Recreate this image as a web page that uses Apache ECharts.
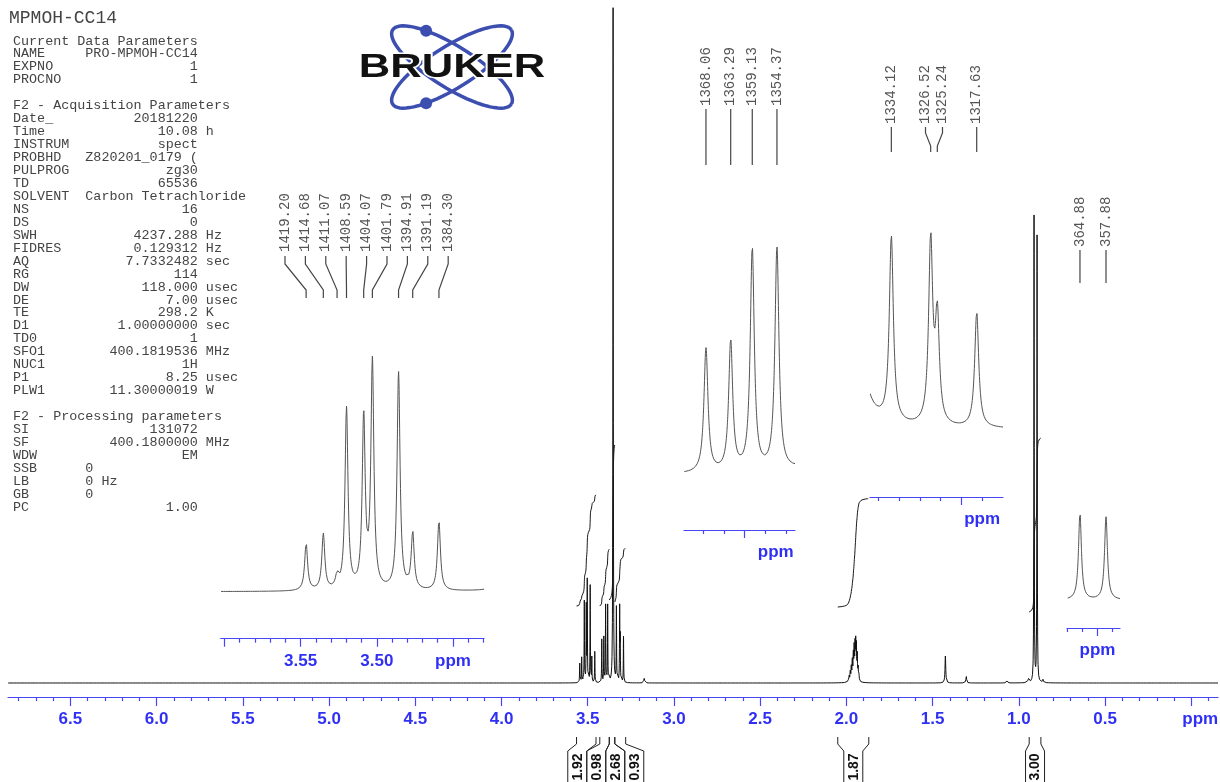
<!DOCTYPE html>
<html>
<head>
<meta charset="utf-8">
<script src="https://cdn.jsdelivr.net/npm/echarts@6/dist/echarts.min.js"></script>
<style>
  html, body { margin: 0; padding: 0; background: #fff; }
  #chart { width: 1220px; height: 782px; }
</style>
</head>
<body>
<div id="chart"></div>
<script>
// ---- acquisition constants -------------------------------------------------
const SF_MHZ = 400.18;          // spectrometer frequency, Hz -> ppm
const LINE_HWHM_HZ = 0.47;      // natural half width of the resolved lines

// ---- resolved multiplets (line positions in Hz, intensities) ---------------
const linesA_Hz = [1419.20, 1414.68, 1411.07, 1408.59, 1404.07, 1401.79, 1394.91, 1391.19, 1384.30];
const linesA_I  = [21, 25, 5.5, 81, 76, 101, 97, 25, 31];
const linesB_Hz = [1368.06, 1363.29, 1359.13, 1354.37];
const linesB_I  = [43, 45, 77, 77];
const linesC_Hz = [1334.12, 1326.52, 1325.24, 1317.63];
const linesC_I  = [74, 73, 42, 46];
const linesD_Hz = [364.88, 357.88];
const linesD_I  = [466, 446];

// ---- other signals (ppm, intensity, half width in Hz) ----------------------
const otherPpm = [3.353, 3.173,
  1.990, 1.984, 1.978, 1.972, 1.966, 1.960, 1.955, 1.950, 1.946, 1.942, 1.937, 1.932, 1.927, 1.955,
  1.426, 1.305, 1.070, 0.945, 0.860];
const otherI   = [675, 5,
  4, 7, 10, 14, 19, 24, 27, 30, 33, 31, 24, 14, 6, 7,
  27, 7, 2, 5, 3];
const otherW   = [0.5, 1.0,
  0.6, 0.6, 0.6, 0.6, 0.6, 0.6, 0.6, 0.6, 0.6, 0.6, 0.6, 0.6, 0.6, 5.0,
  1.0, 1.0, 1.5, 1.0, 1.0];

// ---- integrals ------------------------------------------------------------
const integralValue = [1.92, 0.98, 2.68, 0.93, 1.87, 3.00];
const integralFrom  = [3.565, 3.430, 3.375, 3.343, 2.050, 0.940];
const integralTo    = [3.452, 3.375, 3.343, 3.280, 1.870, 0.872];
const integralStart = [77, 77, 83, 81, 76, 71];

// ---- axis ticks -----------------------------------------------------------
const mainMajor = [0.0, 0.5, 1.0, 1.5, 2.0, 2.5, 3.0, 3.5, 4.0, 4.5, 5.0, 5.5, 6.0, 6.5];
const mainMinor = [-0.1, 0.1, 0.2, 0.3, 0.4, 0.6, 0.7, 0.8, 0.9, 1.1, 1.2, 1.3, 1.4, 1.6, 1.7, 1.8, 1.9,
  2.1, 2.2, 2.3, 2.4, 2.6, 2.7, 2.8, 2.9, 3.1, 3.2, 3.3, 3.4, 3.6, 3.7, 3.8, 3.9, 4.1, 4.2, 4.3, 4.4,
  4.6, 4.7, 4.8, 4.9, 5.1, 5.2, 5.3, 5.4, 5.6, 5.7, 5.8, 5.9, 6.1, 6.2, 6.3, 6.4, 6.6, 6.7, 6.8];
const insetAMajor = [3.45, 3.50, 3.55, 3.60];
const insetAMinor = [3.43, 3.44, 3.46, 3.47, 3.48, 3.49, 3.51, 3.52, 3.53, 3.54, 3.56, 3.57, 3.58, 3.59];
const insetBMajor = [3.40];
const insetBMinor = [3.38, 3.39, 3.41, 3.42];
const insetCMajor = [3.30];
const insetCMinor = [3.29, 3.31, 3.32, 3.33, 3.34];
const insetDMajor = [0.90];
const insetDMinor = [0.89, 0.91, 0.92];

// ---- parameter listing ----------------------------------------------------
const titleText = 'MPMOH-CC14';
const paramsCurrent = [['NAME', 'PRO-MPMOH-CC14', ''], ['EXPNO', '1', ''], ['PROCNO', '1', '']];
const paramsAcq = [
  ['Date_', '20181220', ''], ['Time', '10.08', 'h'], ['INSTRUM', 'spect', ''],
  ['PROBHD', 'Z820201_0179 (', ''], ['PULPROG', 'zg30', ''], ['TD', '65536', ''],
  ['SOLVENT', 'Carbon Tetrachloride', ''], ['NS', '16', ''], ['DS', '0', ''],
  ['SWH', '4237.288', 'Hz'], ['FIDRES', '0.129312', 'Hz'], ['AQ', '7.7332482', 'sec'],
  ['RG', '114', ''], ['DW', '118.000', 'usec'], ['DE', '7.00', 'usec'], ['TE', '298.2', 'K'],
  ['D1', '1.00000000', 'sec'], ['TD0', '1', ''], ['SFO1', '400.1819536', 'MHz'],
  ['NUC1', '1H', ''], ['P1', '8.25', 'usec'], ['PLW1', '11.30000019', 'W']];
const paramsProc = [
  ['SI', '131072', ''], ['SF', '400.1800000', 'MHz'], ['WDW', 'EM', ''],
  ['SSB', '0', '', 'L'], ['LB', '0', 'Hz', 'L'], ['GB', '0', '', 'L'], ['PC', '1.00', '']];

// ---------------------------------------------------------------------------
const BLUE = '#3030f4';
const AXIS_BLUE = '#4646f8';
const MONO = '"Liberation Mono", "DejaVu Sans Mono", monospace';
const SANS = '"Liberation Sans", Arial, sans-serif';
const INTEGRAL_PX_PER_H = 58;

// line list
const lines = [];
function addHz(hz, ints) { hz.forEach((h, i) => lines.push({ p: h / SF_MHZ, h: ints[i], g: LINE_HWHM_HZ / SF_MHZ })); }
addHz(linesA_Hz, linesA_I); addHz(linesB_Hz, linesB_I); addHz(linesC_Hz, linesC_I); addHz(linesD_Hz, linesD_I);
otherPpm.forEach((p, i) => lines.push({ p: p, h: otherI[i], g: otherW[i] / SF_MHZ }));

function spectrum(p) {
  let s = 0;
  for (const k of lines) { const d = (p - k.p) / k.g; s += k.h / (1 + d * d); }
  return s;
}
const OFFS = [-60, -30, -15, -8, -5, -3, -2, -1.5, -1, -0.6, -0.3, 0, 0.3, 0.6, 1, 1.5, 2, 3, 5, 8, 15, 30, 60];
function sampled(min, max, step) {
  const xs = [];
  for (let p = min; p <= max; p += step) xs.push(p);
  xs.push(max);
  lines.forEach(k => OFFS.forEach(o => { const q = k.p + o * k.g; if (q >= min && q <= max) xs.push(q); }));
  xs.sort((a, b) => a - b);
  return xs.map(p => [p, spectrum(p)]);
}
function integralCurve(i) {
  const a = integralFrom[i], b = integralTo[i], n = 500;
  const pts = []; let acc = 0, prev = spectrum(a);
  const cum = [0];
  for (let j = 1; j <= n; j++) {
    const p = a + (b - a) * j / n, v = spectrum(p);
    acc += (prev + v) / 2; prev = v; cum.push(acc);
  }
  for (let j = 0; j <= n; j++) {
    pts.push([a + (b - a) * j / n, integralStart[i] + integralValue[i] * INTEGRAL_PX_PER_H * cum[j] / acc]);
  }
  return pts;
}
// spread label anchors so that neighbours keep a minimum gap
function spread(xs, gap) {
  const order = xs.map((x, i) => i).sort((a, b) => xs[a] - xs[b]);
  let cl = order.map(i => ({ idx: [i] }));
  const place = c => { const m = c.idx.reduce((s, i) => s + xs[i], 0) / c.idx.length; c.start = m - (c.idx.length - 1) * gap / 2; };
  cl.forEach(place);
  let changed = true;
  while (changed) {
    changed = false;
    for (let k = 0; k < cl.length - 1; k++) {
      const a = cl[k], b = cl[k + 1];
      if (b.start - (a.start + (a.idx.length - 1) * gap) < gap - 1e-6) {
        a.idx = a.idx.concat(b.idx); place(a); cl.splice(k + 1, 1); changed = true; break;
      }
    }
  }
  const out = [];
  cl.forEach(c => c.idx.forEach((i, j) => { out[i] = c.start + j * gap; }));
  return out;
}

// ---- layout of the plot areas ----------------------------------------------
const W = 1220, H = 782;
const main = { left: 8, right: 1218, axisY: 697, top: 8, min: -0.155, max: 6.862, yMin: -14, yMax: 675 };
const insets = [
  { min: 3.4296, max: 3.6025, left: 220.7, right: 484, axisY: 638.7, baseY: 591.7, scale: 2.24, top: 300,
    major: insetAMajor, minor: insetAMinor, labels: [3.55, 3.50, 3.45], unitAt: 3.45,
    hz: linesA_Hz, textBottom: 252, lead: [256, 264, 290, 298], gap: 20.4 },
  { min: 3.3757, max: 3.4292, left: 684, right: 795, axisY: 530, baseY: 475, scale: 2.89, top: 200,
    major: insetBMajor, minor: insetBMinor, labels: [3.385], unitAt: 3.385,
    hz: linesB_Hz, textBottom: 106, lead: [109, 115, 158, 165], gap: 17 },
  { min: 3.2799, max: 3.3441, left: 870, right: 1003, axisY: 497, baseY: 429, scale: 2.5, top: 180,
    major: insetCMajor, minor: insetCMinor, labels: [3.29], unitAt: 3.29,
    hz: linesC_Hz, textBottom: 124, lead: [127, 133, 146, 152], gap: 17 },
  { min: 0.8849, max: 0.9205, left: 1067, right: 1120, axisY: 628, baseY: 600, scale: 0.186, top: 480,
    major: insetDMajor, minor: insetDMinor, labels: [0.90], unitAt: 0.90,
    hz: linesD_Hz, textBottom: 247, lead: [250, 256, 276, 283], gap: 17 }
];

const grids = [], xAxes = [], yAxes = [], series = [];

function addAxes(gridIndex, min, max, major, minor, labels, fmt, rich, tickLen) {
  xAxes.push({
    type: 'value', gridIndex, min, max, inverse: true, position: 'bottom',
    axisLine: { show: true, onZero: false, lineStyle: { color: AXIS_BLUE, width: 1.2 } },
    axisTick: { show: true, customValues: major, length: tickLen, lineStyle: { color: AXIS_BLUE, width: 1.2 } },
    axisLabel: { show: true, customValues: labels, formatter: fmt, rich: rich, color: BLUE, fontFamily: SANS,
      fontWeight: 'bold', fontSize: 17, margin: 14 },
    splitLine: { show: false }
  });
  xAxes.push({
    type: 'value', gridIndex, min, max, inverse: true, position: 'bottom',
    axisLine: { show: false, onZero: false },
    axisTick: { show: true, customValues: minor, length: 4, lineStyle: { color: AXIS_BLUE, width: 1.2 } },
    axisLabel: { show: false }, splitLine: { show: false }
  });
}
function gridBox(left, right, top, bottom) {
  return { left: left, width: right - left, top: top, height: bottom - top, containLabel: false, outerBoundsMode: 'none' };
}

// main spectrum
grids.push(gridBox(main.left, main.right, main.top, main.axisY));
addAxes(0, main.min, main.max, mainMajor, mainMinor, mainMajor,
  v => Math.abs(v) < 1e-9 ? '{u|ppm}' : v.toFixed(1),
  { u: { padding: [0, 0, 0, 18], color: BLUE, fontFamily: SANS, fontWeight: 'bold', fontSize: 17 } }, 9);
yAxes.push({ type: 'value', gridIndex: 0, min: main.yMin, max: main.yMax, show: false });

series.push({
  type: 'line', xAxisIndex: 0, yAxisIndex: 0, data: sampled(main.min, main.max, 0.004),
  showSymbol: false, symbol: 'none', lineStyle: { color: '#111', width: 1 }, z: 3
});
integralValue.forEach((v, i) => series.push({
  type: 'line', xAxisIndex: 0, yAxisIndex: 0, data: integralCurve(i),
  showSymbol: false, symbol: 'none', lineStyle: { color: '#1a1a1a', width: 1 }, z: 4
}));

// integral value brackets below the main axis
series.push({
  type: 'custom', xAxisIndex: 0, yAxisIndex: 0, data: [[0, 0]], z: 5, clip: false,
  renderItem: (params, api) => {
    const axisY = api.coord([0, main.yMin])[1];
    const x1 = integralFrom.map(p => api.coord([p, 0])[0]);
    const x2 = integralTo.map(p => api.coord([p, 0])[0]);
    const centres = spread(x1.map((x, i) => (x + x2[i]) / 2), 19);
    const kids = [];
    integralValue.forEach((v, i) => {
      const c = centres[i], hw = 9.5;
      const yTop = axisY + 40, yKnee = axisY + 47, yBox = axisY + 54, yEnd = H + 10;
      kids.push({ type: 'polyline', shape: { points: [[x1[i], yTop], [x1[i], yKnee], [c - hw, yBox], [c - hw, yEnd]] },
        style: { stroke: '#222', lineWidth: 1, fill: null } });
      kids.push({ type: 'polyline', shape: { points: [[x2[i], yTop], [x2[i], yKnee], [c + hw, yBox], [c + hw, yEnd]] },
        style: { stroke: '#222', lineWidth: 1, fill: null } });
      kids.push({ type: 'text', x: c + 0.5, y: axisY + 70, rotation: Math.PI / 2,
        style: { text: v.toFixed(2), fontFamily: SANS, fontWeight: 'bold', fontSize: 14, fill: '#111',
          align: 'center', verticalAlign: 'middle' } });
    });
    return { type: 'group', children: kids };
  }
});

// expansions
insets.forEach((ins, k) => {
  const gi = k + 1;
  const hPx = ins.axisY - ins.top;
  grids.push(gridBox(ins.left, ins.right, ins.top, ins.axisY));
  addAxes(gi, ins.min, ins.max, ins.major, ins.minor, ins.labels,
    v => Math.abs(v - ins.unitAt) < 1e-9 ? 'ppm' : v.toFixed(2), undefined, 8);
  const yMin = -(ins.axisY - ins.baseY) / ins.scale;
  yAxes.push({ type: 'value', gridIndex: gi, min: yMin, max: yMin + hPx / ins.scale, show: false });
  const xi = 2 + k * 2;
  series.push({
    type: 'line', xAxisIndex: xi, yAxisIndex: gi, data: sampled(ins.min, ins.max, (ins.max - ins.min) / 700),
    showSymbol: false, symbol: 'none', lineStyle: { color: '#555', width: 1 }, z: 3
  });
  // peak frequency labels
  series.push({
    type: 'custom', xAxisIndex: xi, yAxisIndex: gi, data: [[0, 0]], z: 5, clip: false,
    renderItem: (params, api) => {
      const px = ins.hz.map(h => api.coord([h / SF_MHZ, 0])[0]);
      const lx = spread(px, ins.gap);
      const kids = [];
      ins.hz.forEach((h, i) => {
        kids.push({ type: 'text', x: lx[i], y: ins.textBottom, rotation: Math.PI / 2,
          style: { text: h.toFixed(2), fontFamily: MONO, fontSize: 14, fill: '#555', align: 'left', verticalAlign: 'middle' } });
        kids.push({ type: 'polyline', shape: { points: [[lx[i], ins.lead[0]], [lx[i], ins.lead[1]], [px[i], ins.lead[2]], [px[i], ins.lead[3]]] },
          style: { stroke: '#444', lineWidth: 1.2, fill: null } });
      });
      return { type: 'group', children: kids };
    }
  });
});

// ---- parameter listing text ----------------------------------------------
function row(r) {
  const name = r[0].padEnd(9, ' ');
  const val = r[3] === 'L' ? r[1] : r[1].padStart(14, ' ');
  return name + val + (r[2] ? ' ' + r[2] : '');
}
const listing = ['Current Data Parameters'].concat(paramsCurrent.map(row), [''],
  ['F2 - Acquisition Parameters'], paramsAcq.map(row), [''],
  ['F2 - Processing parameters'], paramsProc.map(row));

// ---- logo geometry -----------------------------------------------------------
function orbit(cx, cy, rx, ry, phi) {
  const pts = [];
  for (let j = 0; j <= 72; j++) {
    const t = j / 72 * Math.PI * 2, u = rx * Math.cos(t), v = ry * Math.sin(t);
    pts.push([cx + u * Math.cos(phi) - v * Math.sin(phi), cy + u * Math.sin(phi) + v * Math.cos(phi)]);
  }
  return pts;
}
function orbitPoint(cx, cy, rx, ry, phi, t) {
  const u = rx * Math.cos(t), v = ry * Math.sin(t);
  return [cx + u * Math.cos(phi) - v * Math.sin(phi), cy + u * Math.sin(phi) + v * Math.cos(phi)];
}
const LOGO_BLUE = '#3c4fb0';
const lc = [452, 67], phi = 32 * Math.PI / 180;
const dotTop = orbitPoint(lc[0], lc[1], 70, 21, phi, -126 * Math.PI / 180);
const dotBot = orbitPoint(lc[0], lc[1], 70, 21, -phi, 126 * Math.PI / 180);

const graphic = [
  { type: 'text', left: 9, top: 9, style: { text: titleText, fontFamily: MONO, fontSize: 18, fill: '#444' } },
  { type: 'text', left: 13, top: 34.5, style: { text: listing.join('\n'), fontFamily: MONO, fontSize: 13.4, lineHeight: 12.95, fill: '#444' } },
  { type: 'polyline', shape: { points: orbit(lc[0], lc[1], 70, 21, phi) }, style: { stroke: LOGO_BLUE, lineWidth: 3.5, fill: null } },
  { type: 'polyline', shape: { points: orbit(lc[0], lc[1], 70, 21, -phi) }, style: { stroke: LOGO_BLUE, lineWidth: 3.5, fill: null } },
  { type: 'circle', shape: { cx: dotTop[0], cy: dotTop[1], r: 6 }, style: { fill: LOGO_BLUE } },
  { type: 'circle', shape: { cx: dotBot[0], cy: dotBot[1], r: 6 }, style: { fill: LOGO_BLUE } },
  { type: 'text', x: 452, y: 68, scaleX: 1.32, style: { text: 'BRUKER', fontFamily: SANS, fontWeight: 'bold', fontSize: 33,
      fill: '#111', stroke: '#fff', lineWidth: 3, align: 'center', verticalAlign: 'middle' } }
];

const chart = echarts.init(document.getElementById('chart'), null, { renderer: 'canvas', width: W, height: H });
chart.setOption({
  animation: false,
  backgroundColor: '#fff',
  grid: grids,
  xAxis: xAxes,
  yAxis: yAxes,
  series: series,
  graphic: graphic
});
</script>
</body>
</html>
